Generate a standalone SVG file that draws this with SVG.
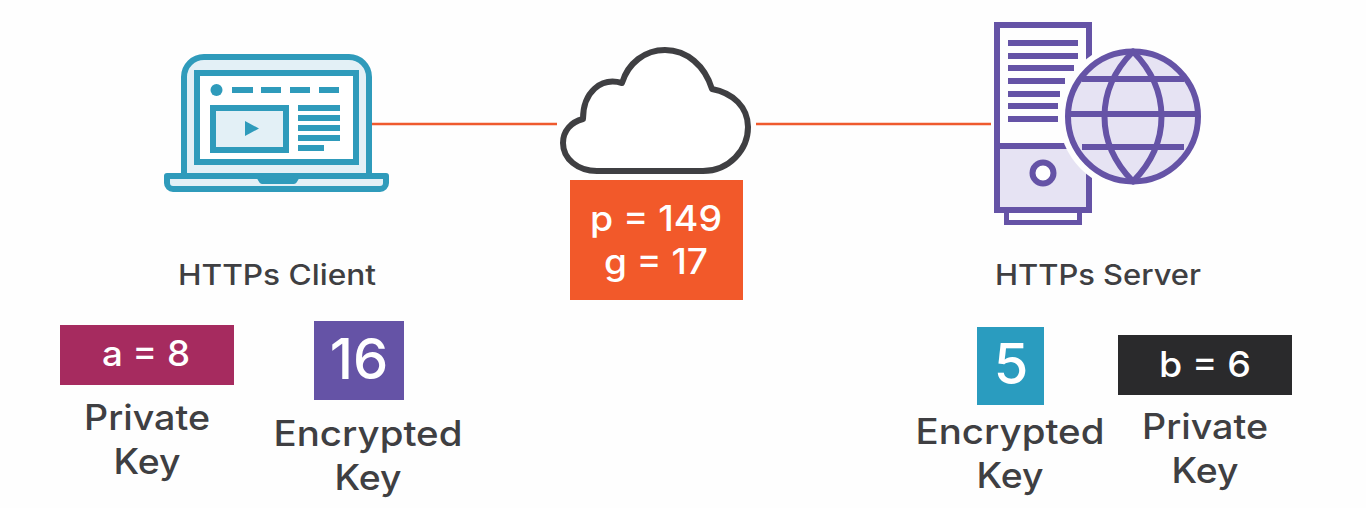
<svg xmlns="http://www.w3.org/2000/svg" width="1366" height="508" viewBox="0 0 1366 508">
<style>
text{font-family:"Inter","Noto Sans",sans-serif;text-anchor:middle}
.lbl{font-size:35px;fill:#3f3f42;font-weight:500}
.head{font-size:28px;fill:#3f3f42;font-weight:500}
.val{fill:#fff;font-weight:500}
.b{fill:#2f9bbb}
.bs{stroke:#2f9bbb;stroke-width:6;fill:#e3f0f6}
.ps{stroke:#6553a6;stroke-width:6;fill:none}
.p{fill:#6553a6}
</style>
<rect width="1366" height="508" fill="#fefefe"/>
<g id="connectors" stroke="#ef5a2e" stroke-width="2.500">
<line x1="372" y1="124" x2="557" y2="124"/>
<line x1="756" y1="124" x2="991" y2="124"/>
</g>
<g id="client-icon">
<path class="bs" d="M184 176V77a20 20 0 0 1 20-20H349a20 20 0 0 1 20 20V176Z"/>
<rect x="197" y="73" width="159" height="89" fill="#fff" stroke="#2f9bbb" stroke-width="6"/>
<path class="bs" d="M167 176H259L262 181H294L297 176H386V183a6 6 0 0 1-6 6H173a6 6 0 0 1-6-6Z" stroke-linejoin="round"/>
<circle class="b" cx="216.500" cy="90" r="6"/>
<rect class="b" x="232" y="87" width="21" height="6"/><rect class="b" x="261" y="87" width="20" height="6"/><rect class="b" x="290" y="87" width="20" height="6"/><rect class="b" x="319" y="87" width="20" height="6"/>
<rect x="213" y="108" width="73" height="42" fill="#e3f0f6" stroke="#2f9bbb" stroke-width="6"/>
<path class="b" d="M245 121L259 128.500L245 136Z"/>
<rect class="b" x="298" y="105" width="42" height="6"/><rect class="b" x="298" y="115" width="42" height="6"/><rect class="b" x="298" y="125" width="42" height="6"/><rect class="b" x="298" y="135" width="42" height="6"/><rect class="b" x="298" y="145" width="26" height="6"/>
</g>
<g id="cloud-node">
<path d="M597 171H703C729 171 748 150 748 127C748 107 733 93 712 89C705 66 687 50 665 50C645 50 628 63 622 83C601 77 583 92 583 119C571 122 563 131 563 143C563 159 578 171 597 171Z" fill="#fff" stroke="#3f3f42" stroke-width="6" stroke-linejoin="round"/>
</g>
<g id="params">
<rect x="570" y="180" width="173" height="120" fill="#f2592a"/>
<text class="val" x="656" y="231" font-size="35" textLength="132" lengthAdjust="spacingAndGlyphs">p = 149</text>
<text class="val" x="656" y="274" font-size="35" textLength="104" lengthAdjust="spacingAndGlyphs">g = 17</text>
</g>
<g id="server-icon">
<rect x="997" y="146" width="92" height="64" fill="#e6e3f3"/>
<path class="ps" d="M1089 25H997V210H1089Z"/>
<path class="ps" d="M997 146H1089"/>
<path d="M1006.500 212V222.500H1079.500V212" fill="none" stroke="#6553a6" stroke-width="5"/>
<circle cx="1043" cy="173" r="10.500" fill="#fff" stroke="#6553a6" stroke-width="6"/>
<g class="p"><rect x="1008" y="40" width="70" height="6"/><rect x="1008" y="53" width="70" height="6"/><rect x="1008" y="65" width="66" height="6"/><rect x="1008" y="78" width="57" height="6"/><rect x="1008" y="91" width="52" height="6"/><rect x="1008" y="103" width="50" height="6"/><rect x="1008" y="116" width="50" height="6"/></g>
<circle cx="1133" cy="116.500" r="74" fill="#fefefe"/>
<circle cx="1133" cy="116.500" r="65" fill="#e6e3f3" stroke="#6553a6" stroke-width="6"/>
<path class="ps" d="M1133 51.500C1095 90 1095 143 1133 181.500C1171 143 1171 90 1133 51.500Z" stroke-linejoin="round"/>
<path class="ps" d="M1068 114H1198M1082 79H1184M1082 147H1184"/>
</g>
<g id="client-label"><text class="head" x="277" y="285" textLength="198" lengthAdjust="spacingAndGlyphs">HTTPs Client</text></g>
<g id="server-label"><text class="head" x="1098" y="285" textLength="206" lengthAdjust="spacingAndGlyphs">HTTPs Server</text></g>
<g id="client-private">
<rect x="60" y="325" width="174" height="60" fill="#a62b5f"/>
<text class="val" x="146" y="366" font-size="35" textLength="88" lengthAdjust="spacingAndGlyphs">a = 8</text>
<text class="lbl" x="147" y="430" textLength="126" lengthAdjust="spacingAndGlyphs">Private</text><text class="lbl" x="147" y="474" textLength="67" lengthAdjust="spacingAndGlyphs">Key</text>
</g>
<g id="client-encrypted">
<rect x="314" y="321" width="90" height="79" fill="#6553a6"/>
<text class="val" x="359" y="379" font-size="56">16</text>
<text class="lbl" x="368" y="446" textLength="189" lengthAdjust="spacingAndGlyphs">Encrypted</text><text class="lbl" x="368" y="490" textLength="67" lengthAdjust="spacingAndGlyphs">Key</text>
</g>
<g id="server-encrypted">
<rect x="977" y="327" width="67" height="78" fill="#2a9cbf"/>
<text class="val" x="1011" y="384" font-size="56">5</text>
<text class="lbl" x="1010" y="444" textLength="189" lengthAdjust="spacingAndGlyphs">Encrypted</text><text class="lbl" x="1010" y="488" textLength="67" lengthAdjust="spacingAndGlyphs">Key</text>
</g>
<g id="server-private">
<rect x="1118" y="335" width="174" height="60" fill="#2a2a2c"/>
<text class="val" x="1205" y="377" font-size="35" textLength="92" lengthAdjust="spacingAndGlyphs">b = 6</text>
<text class="lbl" x="1205" y="439" textLength="126" lengthAdjust="spacingAndGlyphs">Private</text><text class="lbl" x="1205" y="483" textLength="67" lengthAdjust="spacingAndGlyphs">Key</text>
</g>
</svg>
